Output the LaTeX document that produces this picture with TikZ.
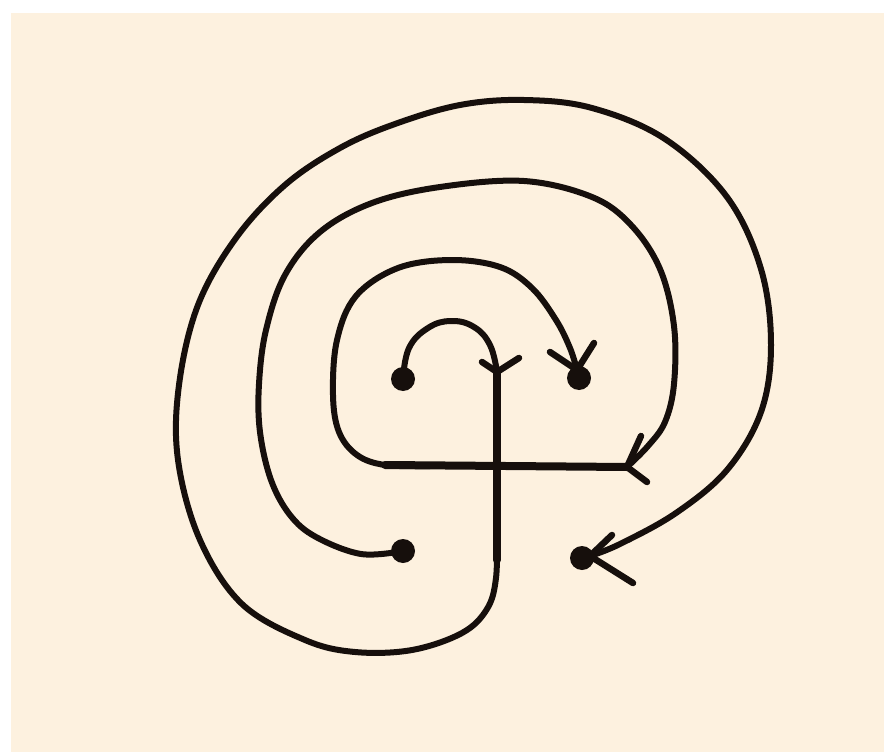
\documentclass[tikz,border=0pt]{standalone}
\definecolor{cream}{RGB}{253,241,223}
\definecolor{ink}{RGB}{22,15,12}
\begin{document}
\begin{tikzpicture}[x=1pt,y=-1pt,
  stroke/.style={draw=ink,line width=6pt,line cap=round,line join=round},
  heavy/.style={draw=ink,line width=8pt,line cap=round},
  barb/.style={draw=ink,line width=6.5pt,line cap=round},
  dot/.style={circle,fill=ink,minimum size=24pt,inner sep=0pt}]
\useasboundingbox (0,0) rectangle (884,752);
\fill[white] (0,0) rectangle (884,752);
\fill[cream] (11,13) rectangle (884,752);
% dots
\node[dot] (A) at (403,379) {};
\node[dot] (B) at (579,378) {};
\node[dot] (C) at (403,551) {};
\node[dot] (D) at (582,558) {};
% key points
\coordinate (stemtop) at (497,372);
\coordinate (stembot) at (497,560);
\coordinate (barR) at (627,467);
\coordinate (barL) at (385,465);
\coordinate (tipB) at (577,370);
\coordinate (tipD) at (590,556);
% smallest arc: A -> stem top
\draw[stroke] plot[smooth,tension=0.7] coordinates {(A.center) (409,348) (428,328) (451,321) (474,327) (490,345) (stemtop)};
\draw[barb] (stemtop) -- (482,362);
\draw[barb] (stemtop) -- (519,358);
% stem
\draw[heavy] (stemtop) -- (stembot);
% outer loop: stem -> D
\draw[stroke] plot[smooth,tension=0.6] coordinates {(497,530) (496,578) (487,609) (462,633) (412,650) (355,652) (305,640) (242,604) (200,540) (178,460) (179,385) (198,305) (236,238) (285,185) (340,148) (395,124) (460,105) (524,100) (592,108) (665,139) (727,197) (761,269) (771,345) (761,412) (727,470) (676,513) (620,544) (tipD)};
\draw[barb] (tipD) -- (612,535);
\draw[barb] (tipD) -- (633,583);
% inner loop: bar -> B
\draw[stroke] plot[smooth,tension=0.6] coordinates {(430,466) (barL) (357,455) (339,432) (333,395) (337,340) (356,296) (398,268) (451,260) (500,267) (532,288) (556,320) (570,348) (tipB)};
\draw[barb] (tipB) -- (550,352);
\draw[barb] (tipB) -- (594,343);
% bar
\draw[heavy] (barL) -- (barR);
% middle loop: C -> bar end
\draw[stroke] plot[smooth,tension=0.6] coordinates {(C.center) (361,554) (316,537) (290,515) (271,480) (260,432) (259,384) (266,330) (285,275) (320,232) (372,203) (440,187) (524,181) (592,197) (631,225) (660,269) (674,326) (674,384) (665,422) (648,446) (barR)};
\draw[barb] (barR) -- (641,436);
\draw[barb] (barR) -- (647,482);
\end{tikzpicture}
\end{document}
